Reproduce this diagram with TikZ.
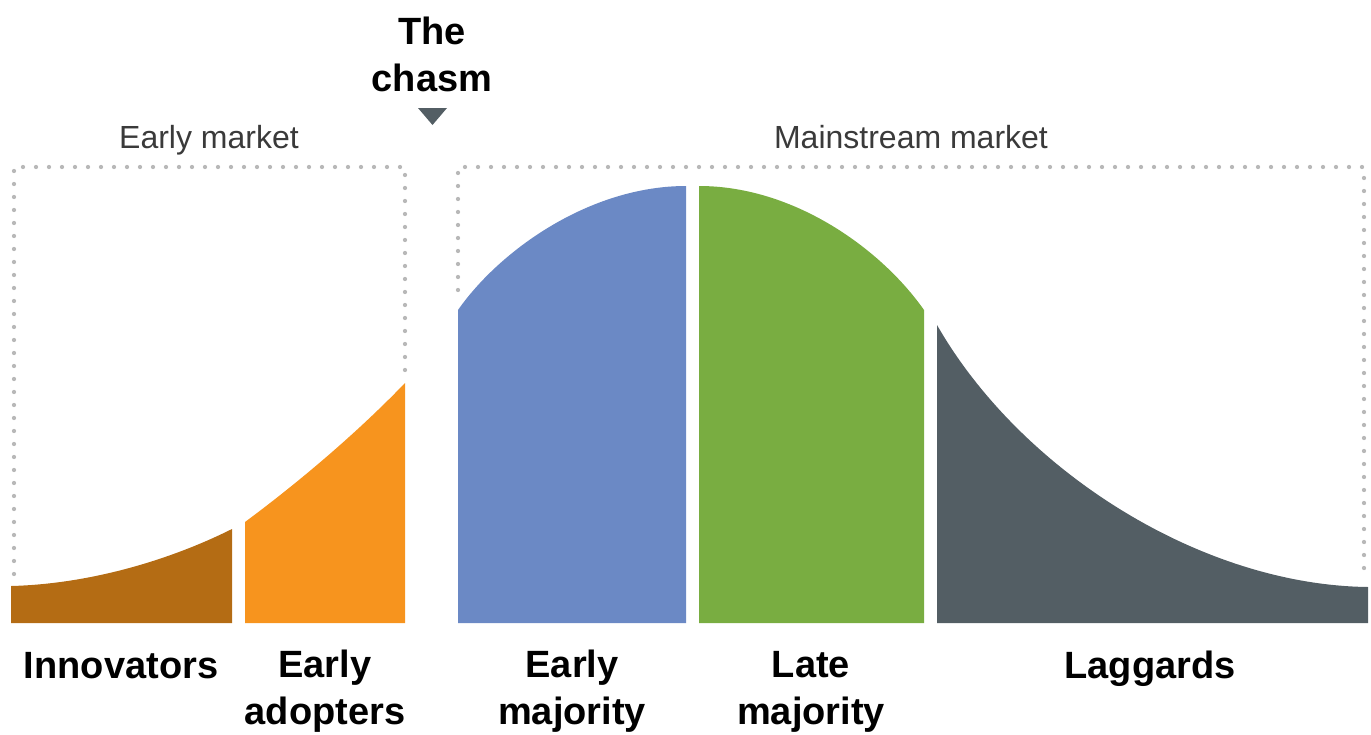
\documentclass[tikz,border=0pt]{standalone}
\usepackage{fontspec}
\setmainfont{Liberation Sans}

\definecolor{innovbrown}{HTML}{B46C14}
\definecolor{adoptorange}{HTML}{F7941E}
\definecolor{earlyblue}{HTML}{6B89C5}
\definecolor{lategreen}{HTML}{79AD41}
\definecolor{laggray}{HTML}{535E64}
\definecolor{dotgray}{HTML}{B8B8B8}
\definecolor{marketgray}{HTML}{3A3A3A}

\tikzset{
  marketbox/.style={draw=dotgray,line width=4.3pt,dash pattern=on 0pt off 13pt,line cap=round},
  grouplabel/.style={font=\fontsize{38}{47}\selectfont\bfseries,align=center,anchor=base,inner sep=0pt},
  marketlabel/.style={font=\fontsize{32}{36}\selectfont,text=marketgray,anchor=base,inner sep=0pt}
}

\begin{document}
\begin{tikzpicture}[x=1pt,y=-1pt]
  \useasboundingbox (0,0) rectangle (1371,734);

  % dotted market frames
  \draw[marketbox] (14,574) -- (14,167) -- (405,167) -- (405,380);
  \draw[marketbox] (458,290) -- (458,167) -- (1364,167) -- (1364,572);

  % adoption curve segments
  \fill[innovbrown] (11,623) -- (11,586) .. controls (90,584) and (170,560) .. (232,529) -- (232,623) -- cycle;
  \fill[adoptorange] (245,623) -- (245,522) .. controls (295,485) and (355,435) .. (405,383) -- (405,623) -- cycle;
  \fill[earlyblue] (458,623) -- (458,310) .. controls (500,250) and (590,186) .. (686,186) -- (686,623) -- cycle;
  \fill[lategreen] (699,623) -- (699,186) .. controls (795,186) and (882,250) .. (924,310) -- (924,623) -- cycle;
  \fill[laggray] (937,623) -- (937,325) .. controls (1020,470) and (1200,585) .. (1368,587) -- (1368,623) -- cycle;

  % chasm marker
  \fill[laggray] (418,108) -- (447,108) -- (432.5,125) -- cycle;

  \node[grouplabel] (chasm) at (432,91) {The\\chasm};
  \node[marketlabel] (early) at (209,148) {Early market};
  \node[marketlabel] (main) at (911,148) {Mainstream market};

  \node[grouplabel] (innov) at (121,678) {Innovators};
  \node[grouplabel] (adopt) at (325,724) {Early\\adopters};
  \node[grouplabel] (emaj) at (572,724) {Early\\majority};
  \node[grouplabel] (lmaj) at (811,724) {Late\\majority};
  \node[grouplabel] (lag) at (1150,678) {Laggards};
\end{tikzpicture}
\end{document}
